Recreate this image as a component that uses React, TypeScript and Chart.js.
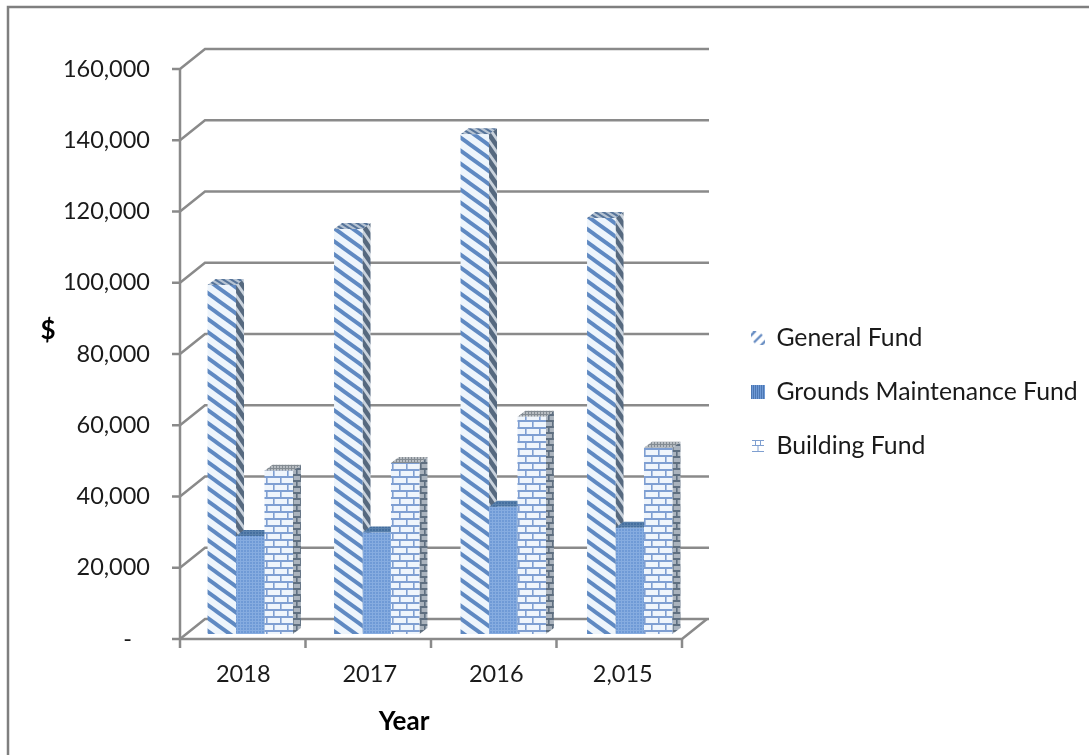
import React, { useEffect, useRef } from "react";
import { Chart, registerables } from "chart.js";

Chart.register(...registerables);

const categories = ["2018", "2017", "2016", "2,015"];
const generalFund = [98000, 113700, 140300, 116800];
const groundsFund = [27500, 28500, 35700, 29800];
const buildingFund = [45800, 48000, 61000, 52300];
const seriesNames = ["General Fund", "Grounds Maintenance Fund", "Building Fund"];
const yTicks = [0, 20000, 40000, 60000, 80000, 100000, 120000, 140000, 160000];
const xTitle = "Year";
const yTitle = "$";

const GRID = "#8a8a8a";
const FONT = "Lato, 'Open Sans', sans-serif";

function tile(w: number, h: number, draw: (c: CanvasRenderingContext2D) => void) {
  const cv = document.createElement("canvas");
  cv.width = w;
  cv.height = h;
  draw(cv.getContext("2d")!);
  return cv;
}
function pat(w: number, h: number, draw: (c: CanvasRenderingContext2D) => void) {
  const probe = document.createElement("canvas").getContext("2d")!;
  return probe.createPattern(tile(w, h, draw), "repeat")!;
}
function stripes(bg: string, fg: string, w: number, h: number, lw: number) {
  return pat(w, h, (c) => {
    c.fillStyle = bg;
    c.fillRect(0, 0, w, h);
    c.strokeStyle = fg;
    c.lineWidth = lw;
    for (let k = -1; k <= 1; k++) {
      c.beginPath();
      c.moveTo(-w, k * h - h);
      c.lineTo(2 * w, k * h + 2 * h);
      c.stroke();
    }
  });
}
function dots(bg: string, fg: string) {
  return pat(6, 6, (c) => {
    c.fillStyle = bg;
    c.fillRect(0, 0, 6, 6);
    c.fillStyle = fg;
    c.fillRect(0, 0, 6, 1);
    c.fillRect(0, 3, 6, 1);
    c.fillRect(0, 0, 1, 6);
    c.fillRect(3, 0, 1, 6);
  });
}
function bricks(bg: string, fg: string, bw: number, bh: number) {
  return pat(bw * 2, bh * 2, (c) => {
    c.fillStyle = bg;
    c.fillRect(0, 0, bw * 2, bh * 2);
    c.fillStyle = fg;
    c.fillRect(0, 0, bw * 2, 2);
    c.fillRect(0, bh, bw * 2, 2);
    c.fillRect(0, 0, 1.6, bh);
    c.fillRect(bw, 0, 1.6, bh);
    c.fillRect(bw / 2, bh, 1.6, bh);
    c.fillRect(bw * 1.5, bh, 1.6, bh);
  });
}

export default function App() {
  const ref = useRef<HTMLCanvasElement>(null);
  useEffect(() => {
    const fronts = [
      stripes("#eef5fc", "#5f89c2", 18, 13, 3.9),
      dots("#6f9ad6", "#86ace0"),
      bricks("#eff5fc", "#7f9fd2", 14, 7),
    ];
    const sides = [
      stripes("#c9d2dc", "#56697f", 9, 13, 4.6),
      dots("#4f76a8", "#64809f"),
      bricks("#aab3bd", "#5f6f80", 8, 6),
    ];
    const tops = [
      stripes("#b7c4d3", "#56749a", 8, 5, 2),
      dots("#456f9f", "#5b82ad"),
      dots("#b8bdc2", "#848c93"),
    ];
    const swatches = [
      tile(14, 14, (c) => {
        c.strokeStyle = "#6a8fc4";
        c.lineWidth = 2.4;
        for (const off of [-5, 0, 5]) {
          c.beginPath();
          c.moveTo(1 + off + 2, 13 + off - 2);
          c.lineTo(13 + off - 2, 1 + off + 2);
          c.stroke();
        }
      }),
      tile(14, 14, (c) => {
        c.fillStyle = "#6f9ad6";
        c.fillRect(0, 0, 14, 14);
        c.fillStyle = "#4c77b3";
        for (let i = 0; i < 14; i += 2) c.fillRect(i, 0, 1, 14);
      }),
      tile(14, 14, (c) => {
        c.strokeStyle = "#7f9fd0";
        c.lineWidth = 1;
        c.beginPath();
        for (const y of [1.5, 6.5, 12.5]) {
          c.moveTo(1, y);
          c.lineTo(13, y);
        }
        c.moveTo(4.5, 1.5);
        c.lineTo(4.5, 6.5);
        c.moveTo(9.5, 1.5);
        c.lineTo(9.5, 6.5);
        c.moveTo(7, 6.5);
        c.lineTo(7, 12.5);
        c.stroke();
      }),
    ];

    const DEPTH_X = 8;
    const DEPTH_Y = 6;

    const frame = {
      id: "frame",
      beforeDraw(chart: any) {
        const c = chart.ctx;
        c.fillStyle = "#ffffff";
        c.fillRect(0, 0, chart.width, chart.height);
        c.strokeStyle = "#7f7f7f";
        c.lineWidth = 2.5;
        c.beginPath();
        c.moveTo(8, chart.height);
        c.lineTo(8, 7);
        c.lineTo(chart.width, 7);
        c.stroke();
      },
    };

    const walls = {
      id: "walls",
      beforeDatasetsDraw(chart: any) {
        const c = chart.ctx;
        const { left, right } = chart.chartArea;
        const y = chart.scales.y;
        const fl = left - 7;
        const fr = right - 11;
        const dx = 25;
        const dy = 20;
        c.save();
        c.strokeStyle = GRID;
        c.lineWidth = 2.5;
        yTicks.forEach((v) => {
          const fy = y.getPixelForValue(v) + 5;
          c.beginPath();
          c.moveTo(fl - 8, fy);
          c.lineTo(fl, fy);
          c.lineTo(fl + dx, fy - dy);
          c.lineTo(fr + dx + 2, fy - dy);
          c.stroke();
        });
        const fy0 = y.getPixelForValue(0) + 5;
        const fyTop = y.getPixelForValue(160000) + 5;
        c.beginPath();
        c.moveTo(fl, fyTop);
        c.lineTo(fl, fy0);
        c.moveTo(fl, fy0);
        c.lineTo(fr, fy0);
        c.lineTo(fr + dx, fy0 - dy);
        c.stroke();
        for (let i = 0; i <= categories.length; i++) {
          const tx = fl + ((fr - fl) * i) / categories.length;
          c.beginPath();
          c.moveTo(tx, fy0);
          c.lineTo(tx, fy0 + 9);
          c.stroke();
        }
        chart.data.datasets.forEach((_: any, di: number) => {
          chart.getDatasetMeta(di).data.forEach((el: any) => {
            const p = el.getProps(["x", "y", "base", "width"], true);
            const l = p.x - p.width / 2;
            const r = p.x + p.width / 2;
            c.fillStyle = sides[di];
            c.beginPath();
            c.moveTo(r, p.y);
            c.lineTo(r + DEPTH_X, p.y - DEPTH_Y);
            c.lineTo(r + DEPTH_X, p.base - DEPTH_Y);
            c.lineTo(r, p.base);
            c.closePath();
            c.fill();
            c.fillStyle = tops[di];
            c.beginPath();
            c.moveTo(l, p.y);
            c.lineTo(l + DEPTH_X, p.y - DEPTH_Y);
            c.lineTo(r + DEPTH_X, p.y - DEPTH_Y);
            c.lineTo(r, p.y);
            c.closePath();
            c.fill();
          });
        });
        c.restore();
      },
    };

    const titles = {
      id: "titles",
      afterDraw(chart: any) {
        const c = chart.ctx;
        c.save();
        c.fillStyle = "#000000";
        c.font = `bold 26px ${FONT}`;
        c.textAlign = "center";
        c.textBaseline = "middle";
        c.fillText(xTitle, 404, 722);
        c.fillText(yTitle, 48, 331);
        c.restore();
      },
    };

    const placeLegend = {
      id: "placeLegend",
      afterLayout(chart: any) {
        const lg = chart.legend;
        const w = lg.width;
        const h = lg.height;
        lg.left = 723;
        lg.right = 723 + w;
        lg.top = 297;
        lg.bottom = 297 + h;
      },
    };

    const chart = new Chart(ref.current!, {
      type: "bar",
      data: {
        labels: categories,
        datasets: [generalFund, groundsFund, buildingFund].map((d, i) => ({
          label: seriesNames[i],
          data: d,
          backgroundColor: fronts[i],
          borderWidth: 0,
          categoryPercentage: 0.675,
          barPercentage: 1,
        })),
      },
      plugins: [frame, walls, titles, placeLegend],
      options: {
        animation: false,
        responsive: false,
        devicePixelRatio: 1,
        layout: { padding: { left: 11, top: 64, right: 396, bottom: 0 } },
        plugins: {
          tooltip: { enabled: false },
          title: { display: false },
          legend: {
            position: "chartArea",
            align: "start",
            labels: {
              usePointStyle: true,
              boxWidth: 12,
              boxHeight: 14,
              padding: 29,
              color: "#1a1a1a",
              font: { family: FONT, size: 24.8 },
              generateLabels: () =>
                seriesNames.map((text, i) => ({
                  text,
                  fontColor: "#1a1a1a",
                  pointStyle: swatches[i],
                  fillStyle: "#fff",
                  strokeStyle: "#fff",
                  lineWidth: 0,
                  datasetIndex: i,
                  hidden: false,
                })),
            },
          },
        },
        scales: {
          x: {
            grid: { display: false, drawTicks: false },
            border: { display: false },
            afterFit: (s: any) => {
              s.height = 121;
            },
            ticks: {
              color: "#1a1a1a",
              font: { family: FONT, size: 23.5 },
              padding: 26,
              labelOffset: -7,
              maxRotation: 0,
              autoSkip: false,
            },
          },
          y: {
            min: 0,
            max: 160000,
            grid: { display: false, drawTicks: false },
            border: { display: false },
            afterFit: (s: any) => {
              s.width = 176;
            },
            afterBuildTicks: (s: any) => {
              s.ticks = yTicks.map((value) => ({ value }));
            },
            ticks: {
              color: "#1a1a1a",
              font: { family: FONT, size: 23.5 },
              padding: 37,
              labelOffset: 5,
              callback: (v: any) => (v === 0 ? "-   " : Number(v).toLocaleString("en-US")),
            },
          },
        },
      },
    } as any);
    return () => chart.destroy();
  }, []);
  return (
    <canvas
      ref={ref}
      width={1089}
      height={755}
      style={{ position: "absolute", left: 0, top: 0, display: "block" }}
    />
  );
}
